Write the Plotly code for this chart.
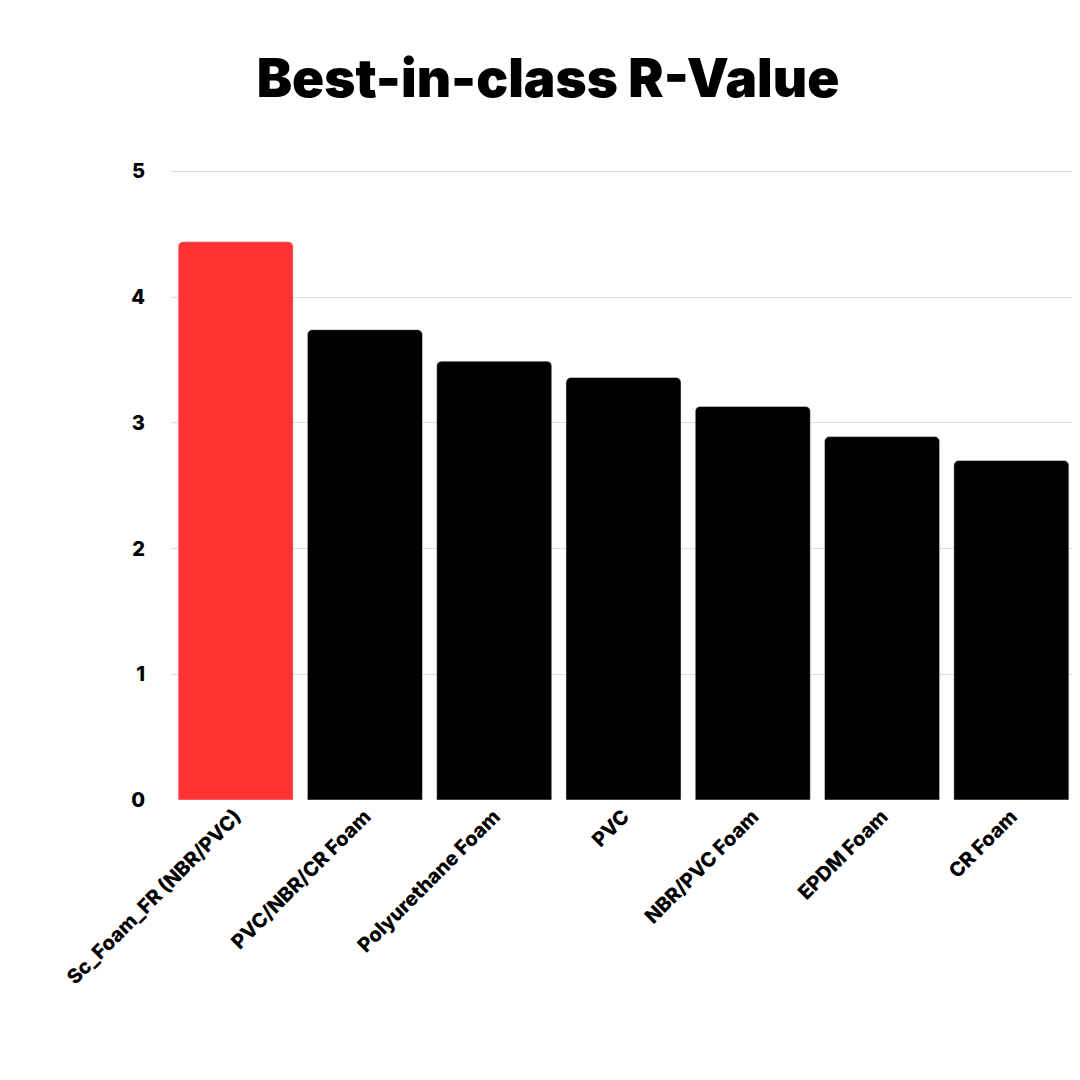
import plotly.graph_objects as go

materials = ["Sc_Foam_FR (NBR/PVC)", "PVC/NBR/CR Foam", "Polyurethane Foam", "PVC",
             "NBR/PVC Foam", "EPDM Foam", "CR Foam"]
r_values = [4.44, 3.74, 3.49, 3.36, 3.13, 2.89, 2.70]
bar_colors = ["#ff3333"] + ["#000000"] * 6

fig = go.Figure(go.Bar(
    x=materials, y=r_values,
    marker=dict(color=bar_colors, cornerradius=5),
))

fig.update_layout(
    width=1080, height=1080,
    margin=dict(l=163, r=12, t=162, b=288, pad=0),
    plot_bgcolor="white", paper_bgcolor="white",
    bargap=0.11,
    showlegend=False,
    font=dict(family="Inter", color="#000000"),
    title=dict(text="Best-in-class R-Value", x=0.5, y=0.935, xanchor="center", yanchor="middle",
               font=dict(family="Inter", size=53, weight=900, color="#000000")),
)
fig.update_yaxes(range=[0, 5.01], dtick=1, showgrid=True, gridcolor="#dddddd", zeroline=False,
                 ticklabelstandoff=25, automargin=False,
                 tickfont=dict(size=20, weight=800))
fig.update_xaxes(tickangle=-45, tickfont=dict(size=20, weight=800), showline=False,
                 automargin=False)

fig.write_html("out.html")
